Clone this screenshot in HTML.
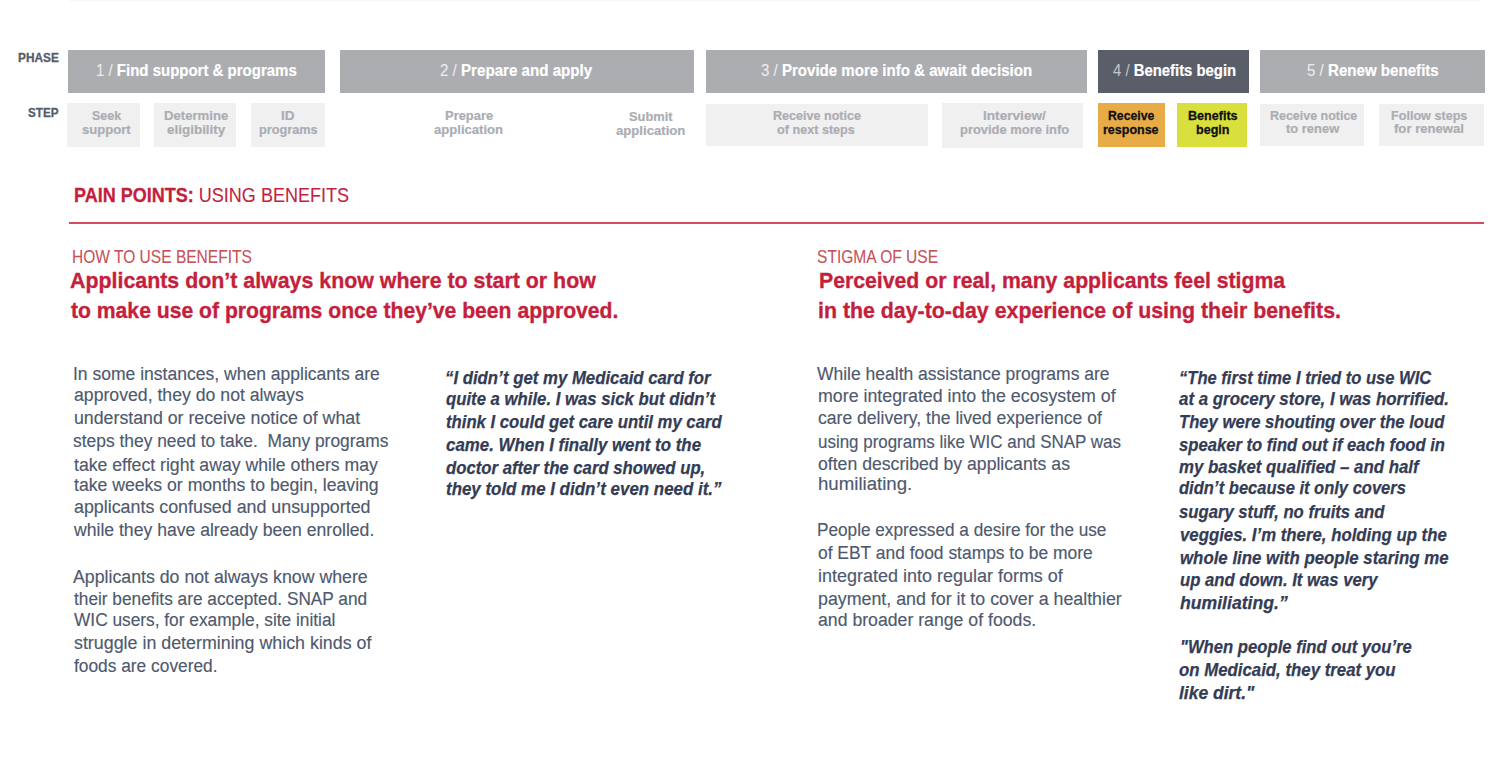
<!DOCTYPE html>
<html><head><meta charset="utf-8"><title>Pain points: using benefits</title>
<style>
html,body{margin:0;padding:0;background:#fff;}
body{width:1500px;height:761px;position:relative;overflow:hidden;font-family:"Liberation Sans", sans-serif;}
.r{position:absolute;}
.t{position:absolute;white-space:pre;transform-origin:0 0;}
.body{font:normal normal 18.0px "Liberation Sans", sans-serif;line-height:inherit;color:#4e596e;-webkit-text-stroke:0.15px #4e596e}
.quote{font:italic bold 18.0px "Liberation Sans", sans-serif;line-height:inherit;color:#343c55;-webkit-text-stroke:0.25px #343c55}
.h1{font:normal bold 22.0px "Liberation Sans", sans-serif;line-height:inherit;color:#c41f3d;-webkit-text-stroke:0.35px #c41f3d}
.sub{font:normal normal 18.8px "Liberation Sans", sans-serif;line-height:inherit;color:#c65258;-webkit-text-stroke:0.1px #c65258}
.painb{font:normal bold 20.0px "Liberation Sans", sans-serif;line-height:inherit;color:#c41e3b;-webkit-text-stroke:0.3px #c41e3b}
.painr{font:normal normal 20.0px "Liberation Sans", sans-serif;line-height:inherit;color:#c52241;-webkit-text-stroke:0.1px #c52241}
.phb{font:normal bold 16.5px "Liberation Sans", sans-serif;line-height:inherit;color:#ffffff;-webkit-text-stroke:0.2px #ffffff}
.phr{font:normal normal 16.5px "Liberation Sans", sans-serif;line-height:inherit;color:#eeeef0}
.phr4{font:normal normal 16.5px "Liberation Sans", sans-serif;line-height:inherit;color:#c4c6cc}
.step{font:normal bold 13.5px "Liberation Sans", sans-serif;line-height:inherit;color:#abadb3;-webkit-text-stroke:0.2px #abadb3}
.stepk{font:normal bold 13.5px "Liberation Sans", sans-serif;line-height:inherit;color:#111111;-webkit-text-stroke:0.3px #111111}
.label{font:normal bold 12.8px "Liberation Sans", sans-serif;line-height:inherit;color:#565b67;-webkit-text-stroke:0.3px #565b67}
</style></head><body>
<div class="r" style="left:69px;top:0;width:1412px;height:1px;background:#f6f7f8"></div>
<div class="r" style="left:68px;top:50px;width:257.00px;height:43.00px;background:#acadb1"></div>
<div class="r" style="left:340px;top:50px;width:353.50px;height:43.00px;background:#acadb1"></div>
<div class="r" style="left:706px;top:50px;width:381.00px;height:43.00px;background:#acadb1"></div>
<div class="r" style="left:1098px;top:50px;width:151.00px;height:43.00px;background:#5a5e68"></div>
<div class="r" style="left:1260px;top:50px;width:225.00px;height:43.00px;background:#acadb1"></div>
<div class="r" style="left:67.2px;top:103px;width:72.80px;height:43.50px;background:#f0f0f0"></div>
<div class="r" style="left:153.5px;top:103px;width:82.50px;height:44.00px;background:#f0f0f0"></div>
<div class="r" style="left:251.2px;top:103px;width:73.80px;height:44.00px;background:#f0f0f0"></div>
<div class="r" style="left:706px;top:104px;width:222.00px;height:42.00px;background:#f0f0f0"></div>
<div class="r" style="left:942px;top:103px;width:141.00px;height:44.50px;background:#f0f0f0"></div>
<div class="r" style="left:1098px;top:103.2px;width:67.40px;height:43.40px;background:#e8ac47"></div>
<div class="r" style="left:1177.3px;top:103.2px;width:70.00px;height:43.40px;background:#d9df3d"></div>
<div class="r" style="left:1260px;top:104px;width:104.00px;height:41.80px;background:#f0f0f0"></div>
<div class="r" style="left:1379px;top:104px;width:105.20px;height:41.80px;background:#f0f0f0"></div>
<div class="r" style="left:69px;top:222px;width:1415.00px;height:2.00px;background:#d24d62"></div>
<div class="t" style="left:18.20px;top:51.00px;line-height:12.8px;transform:scaleX(0.9250)"><span class="label">PHASE</span></div>
<div class="t" style="left:28.40px;top:106.00px;line-height:12.8px;transform:scaleX(0.9151)"><span class="label">STEP</span></div>
<div class="t" style="left:95.70px;top:62.00px;line-height:16.5px;transform:scaleX(0.9086)"><span class="phr">1 / </span><span class="phb">Find support &amp; programs</span></div>
<div class="t" style="left:440.20px;top:62.00px;line-height:16.5px;transform:scaleX(0.9169)"><span class="phr">2 / </span><span class="phb">Prepare and apply</span></div>
<div class="t" style="left:761.00px;top:62.00px;line-height:16.5px;transform:scaleX(0.9125)"><span class="phr">3 / </span><span class="phb">Provide more info &amp; await decision</span></div>
<div class="t" style="left:1112.80px;top:62.00px;line-height:16.5px;transform:scaleX(0.9015)"><span class="phr4">4 / </span><span class="phb">Benefits begin</span></div>
<div class="t" style="left:1307.20px;top:62.00px;line-height:16.5px;transform:scaleX(0.9153)"><span class="phr">5 / </span><span class="phb">Renew benefits</span></div>
<div class="t" style="left:74.40px;top:184.60px;line-height:20.0px;transform:scaleX(0.9010)"><span class="painb">PAIN POINTS:</span><span class="painr"> USING BENEFITS</span></div>
<div class="t" style="left:71.80px;top:247.90px;line-height:18.8px;transform:scaleX(0.8273)"><span class="sub">HOW TO USE BENEFITS</span></div>
<div class="t" style="left:70.00px;top:269.80px;line-height:22.0px;transform:scaleX(0.9710)"><span class="h1">Applicants don’t always know where to start or how</span></div>
<div class="t" style="left:71.20px;top:299.90px;line-height:22.0px;transform:scaleX(0.9608)"><span class="h1">to make use of programs once they’ve been approved.</span></div>
<div class="t" style="left:817.30px;top:247.80px;line-height:18.8px;transform:scaleX(0.8290)"><span class="sub">STIGMA OF USE</span></div>
<div class="t" style="left:818.70px;top:269.80px;line-height:22.0px;transform:scaleX(0.9652)"><span class="h1">Perceived or real, many applicants feel stigma</span></div>
<div class="t" style="left:817.70px;top:299.80px;line-height:22.0px;transform:scaleX(0.9700)"><span class="h1">in the day-to-day experience of using their benefits.</span></div>
<div class="t" style="left:73.00px;top:365.40px;line-height:18.0px;transform:scaleX(0.9736)"><span class="body">In some instances, when applicants are</span></div>
<div class="t" style="left:73.70px;top:386.10px;line-height:18.0px;transform:scaleX(0.9812)"><span class="body">approved, they do not always</span></div>
<div class="t" style="left:74.00px;top:409.10px;line-height:18.0px;transform:scaleX(0.9859)"><span class="body">understand or receive notice of what</span></div>
<div class="t" style="left:73.30px;top:431.60px;line-height:18.0px;transform:scaleX(0.9672)"><span class="body">steps they need to take.  Many programs</span></div>
<div class="t" style="left:73.90px;top:455.70px;line-height:18.0px;transform:scaleX(0.9810)"><span class="body">take effect right away while others may</span></div>
<div class="t" style="left:73.90px;top:475.60px;line-height:18.0px;transform:scaleX(0.9791)"><span class="body">take weeks or months to begin, leaving</span></div>
<div class="t" style="left:73.90px;top:498.30px;line-height:18.0px;transform:scaleX(0.9910)"><span class="body">applicants confused and unsupported</span></div>
<div class="t" style="left:73.90px;top:521.10px;line-height:18.0px;transform:scaleX(0.9775)"><span class="body">while they have already been enrolled.</span></div>
<div class="t" style="left:73.20px;top:567.50px;line-height:18.0px;transform:scaleX(0.9850)"><span class="body">Applicants do not always know where</span></div>
<div class="t" style="left:73.80px;top:590.40px;line-height:18.0px;transform:scaleX(0.9584)"><span class="body">their benefits are accepted. SNAP and</span></div>
<div class="t" style="left:73.50px;top:610.90px;line-height:18.0px;transform:scaleX(0.9607)"><span class="body">WIC users, for example, site initial</span></div>
<div class="t" style="left:73.50px;top:634.00px;line-height:18.0px;transform:scaleX(0.9910)"><span class="body">struggle in determining which kinds of</span></div>
<div class="t" style="left:73.80px;top:657.20px;line-height:18.0px;transform:scaleX(0.9628)"><span class="body">foods are covered.</span></div>
<div class="t" style="left:817.40px;top:365.40px;line-height:18.0px;transform:scaleX(0.9714)"><span class="body">While health assistance programs are</span></div>
<div class="t" style="left:817.70px;top:386.50px;line-height:18.0px;transform:scaleX(0.9884)"><span class="body">more integrated into the ecosystem of</span></div>
<div class="t" style="left:817.70px;top:408.60px;line-height:18.0px;transform:scaleX(0.9763)"><span class="body">care delivery, the lived experience of</span></div>
<div class="t" style="left:817.70px;top:432.50px;line-height:18.0px;transform:scaleX(0.9413)"><span class="body">using programs like WIC and SNAP was</span></div>
<div class="t" style="left:817.70px;top:454.60px;line-height:18.0px;transform:scaleX(0.9798)"><span class="body">often described by applicants as</span></div>
<div class="t" style="left:817.70px;top:474.80px;line-height:18.0px;transform:scaleX(1.0356)"><span class="body">humiliating.</span></div>
<div class="t" style="left:817.20px;top:521.30px;line-height:18.0px;transform:scaleX(0.9546)"><span class="body">People expressed a desire for the use</span></div>
<div class="t" style="left:817.60px;top:544.10px;line-height:18.0px;transform:scaleX(0.9676)"><span class="body">of EBT and food stamps to be more</span></div>
<div class="t" style="left:817.90px;top:567.00px;line-height:18.0px;transform:scaleX(0.9988)"><span class="body">integrated into regular forms of</span></div>
<div class="t" style="left:817.90px;top:589.50px;line-height:18.0px;transform:scaleX(0.9889)"><span class="body">payment, and for it to cover a healthier</span></div>
<div class="t" style="left:817.60px;top:611.10px;line-height:18.0px;transform:scaleX(0.9819)"><span class="body">and broader range of foods.</span></div>
<div class="t" style="left:445.40px;top:369.40px;line-height:18.0px;transform:scaleX(0.9308)"><span class="quote">“I didn’t get my Medicaid card for</span></div>
<div class="t" style="left:446.00px;top:390.20px;line-height:18.0px;transform:scaleX(0.9296)"><span class="quote">quite a while. I was sick but didn’t</span></div>
<div class="t" style="left:446.00px;top:412.80px;line-height:18.0px;transform:scaleX(0.9279)"><span class="quote">think I could get care until my card</span></div>
<div class="t" style="left:446.00px;top:436.20px;line-height:18.0px;transform:scaleX(0.9375)"><span class="quote">came. When I finally went to the</span></div>
<div class="t" style="left:446.00px;top:459.20px;line-height:18.0px;transform:scaleX(0.9291)"><span class="quote">doctor after the card showed up,</span></div>
<div class="t" style="left:446.00px;top:479.80px;line-height:18.0px;transform:scaleX(0.9388)"><span class="quote">they told me I didn’t even need it.”</span></div>
<div class="t" style="left:1179.10px;top:369.40px;line-height:18.0px;transform:scaleX(0.9205)"><span class="quote">“The first time I tried to use WIC</span></div>
<div class="t" style="left:1179.20px;top:390.20px;line-height:18.0px;transform:scaleX(0.9373)"><span class="quote">at a grocery store, I was horrified.</span></div>
<div class="t" style="left:1178.60px;top:412.80px;line-height:18.0px;transform:scaleX(0.9244)"><span class="quote">They were shouting over the loud</span></div>
<div class="t" style="left:1179.00px;top:436.20px;line-height:18.0px;transform:scaleX(0.9236)"><span class="quote">speaker to find out if each food in</span></div>
<div class="t" style="left:1179.00px;top:458.30px;line-height:18.0px;transform:scaleX(0.9357)"><span class="quote">my basket qualified – and half</span></div>
<div class="t" style="left:1179.00px;top:479.40px;line-height:18.0px;transform:scaleX(0.9170)"><span class="quote">didn’t because it only covers</span></div>
<div class="t" style="left:1178.70px;top:503.30px;line-height:18.0px;transform:scaleX(0.9265)"><span class="quote">sugary stuff, no fruits and</span></div>
<div class="t" style="left:1179.50px;top:525.70px;line-height:18.0px;transform:scaleX(0.9327)"><span class="quote">veggies. I’m there, holding up the</span></div>
<div class="t" style="left:1179.50px;top:548.60px;line-height:18.0px;transform:scaleX(0.9355)"><span class="quote">whole line with people staring me</span></div>
<div class="t" style="left:1179.50px;top:571.10px;line-height:18.0px;transform:scaleX(0.9271)"><span class="quote">up and down. It was very</span></div>
<div class="t" style="left:1179.50px;top:593.50px;line-height:18.0px;transform:scaleX(0.9791)"><span class="quote">humiliating.”</span></div>
<div class="t" style="left:1179.70px;top:638.10px;line-height:18.0px;transform:scaleX(0.9253)"><span class="quote">"When people find out you’re</span></div>
<div class="t" style="left:1179.00px;top:661.10px;line-height:18.0px;transform:scaleX(0.9336)"><span class="quote">on Medicaid, they treat you</span></div>
<div class="t" style="left:1179.00px;top:684.20px;line-height:18.0px;transform:scaleX(0.9705)"><span class="quote">like dirt."</span></div>
<div class="t" style="left:92.20px;top:108.00px;line-height:13.5px;transform:scaleX(0.9251)"><span class="step">Seek</span></div>
<div class="t" style="left:82.30px;top:122.20px;line-height:13.5px;transform:scaleX(0.9688)"><span class="step">support</span></div>
<div class="t" style="left:164.20px;top:107.80px;line-height:13.5px;transform:scaleX(0.9728)"><span class="step">Determine</span></div>
<div class="t" style="left:166.80px;top:122.00px;line-height:13.5px;transform:scaleX(0.9967)"><span class="step">eligibility</span></div>
<div class="t" style="left:281.00px;top:107.80px;line-height:13.5px;transform:scaleX(1.0000)"><span class="step">ID</span></div>
<div class="t" style="left:258.60px;top:122.00px;line-height:13.5px;transform:scaleX(0.9420)"><span class="step">programs</span></div>
<div class="t" style="left:445.00px;top:107.70px;line-height:13.5px;transform:scaleX(0.9582)"><span class="step">Prepare</span></div>
<div class="t" style="left:434.20px;top:121.80px;line-height:13.5px;transform:scaleX(0.9691)"><span class="step">application</span></div>
<div class="t" style="left:628.70px;top:109.00px;line-height:13.5px;transform:scaleX(0.9524)"><span class="step">Submit</span></div>
<div class="t" style="left:615.80px;top:122.80px;line-height:13.5px;transform:scaleX(0.9733)"><span class="step">application</span></div>
<div class="t" style="left:772.60px;top:108.00px;line-height:13.5px;transform:scaleX(0.9306)"><span class="step">Receive notice</span></div>
<div class="t" style="left:777.20px;top:122.00px;line-height:13.5px;transform:scaleX(0.9350)"><span class="step">of next steps</span></div>
<div class="t" style="left:983.40px;top:108.10px;line-height:13.5px;transform:scaleX(1.0096)"><span class="step">Interview/</span></div>
<div class="t" style="left:960.20px;top:122.20px;line-height:13.5px;transform:scaleX(0.9579)"><span class="step">provide more info</span></div>
<div class="t" style="left:1107.80px;top:108.00px;line-height:13.5px;transform:scaleX(0.9060)"><span class="stepk">Receive</span></div>
<div class="t" style="left:1103.30px;top:121.90px;line-height:13.5px;transform:scaleX(0.9251)"><span class="stepk">response</span></div>
<div class="t" style="left:1187.80px;top:108.00px;line-height:13.5px;transform:scaleX(0.9305)"><span class="stepk">Benefits</span></div>
<div class="t" style="left:1196.10px;top:121.90px;line-height:13.5px;transform:scaleX(0.9308)"><span class="stepk">begin</span></div>
<div class="t" style="left:1269.50px;top:107.90px;line-height:13.5px;transform:scaleX(0.9232)"><span class="step">Receive notice</span></div>
<div class="t" style="left:1286.40px;top:121.40px;line-height:13.5px;transform:scaleX(0.9589)"><span class="step">to renew</span></div>
<div class="t" style="left:1391.10px;top:107.90px;line-height:13.5px;transform:scaleX(0.9342)"><span class="step">Follow steps</span></div>
<div class="t" style="left:1394.20px;top:121.40px;line-height:13.5px;transform:scaleX(0.9722)"><span class="step">for renewal</span></div>
</body></html>
